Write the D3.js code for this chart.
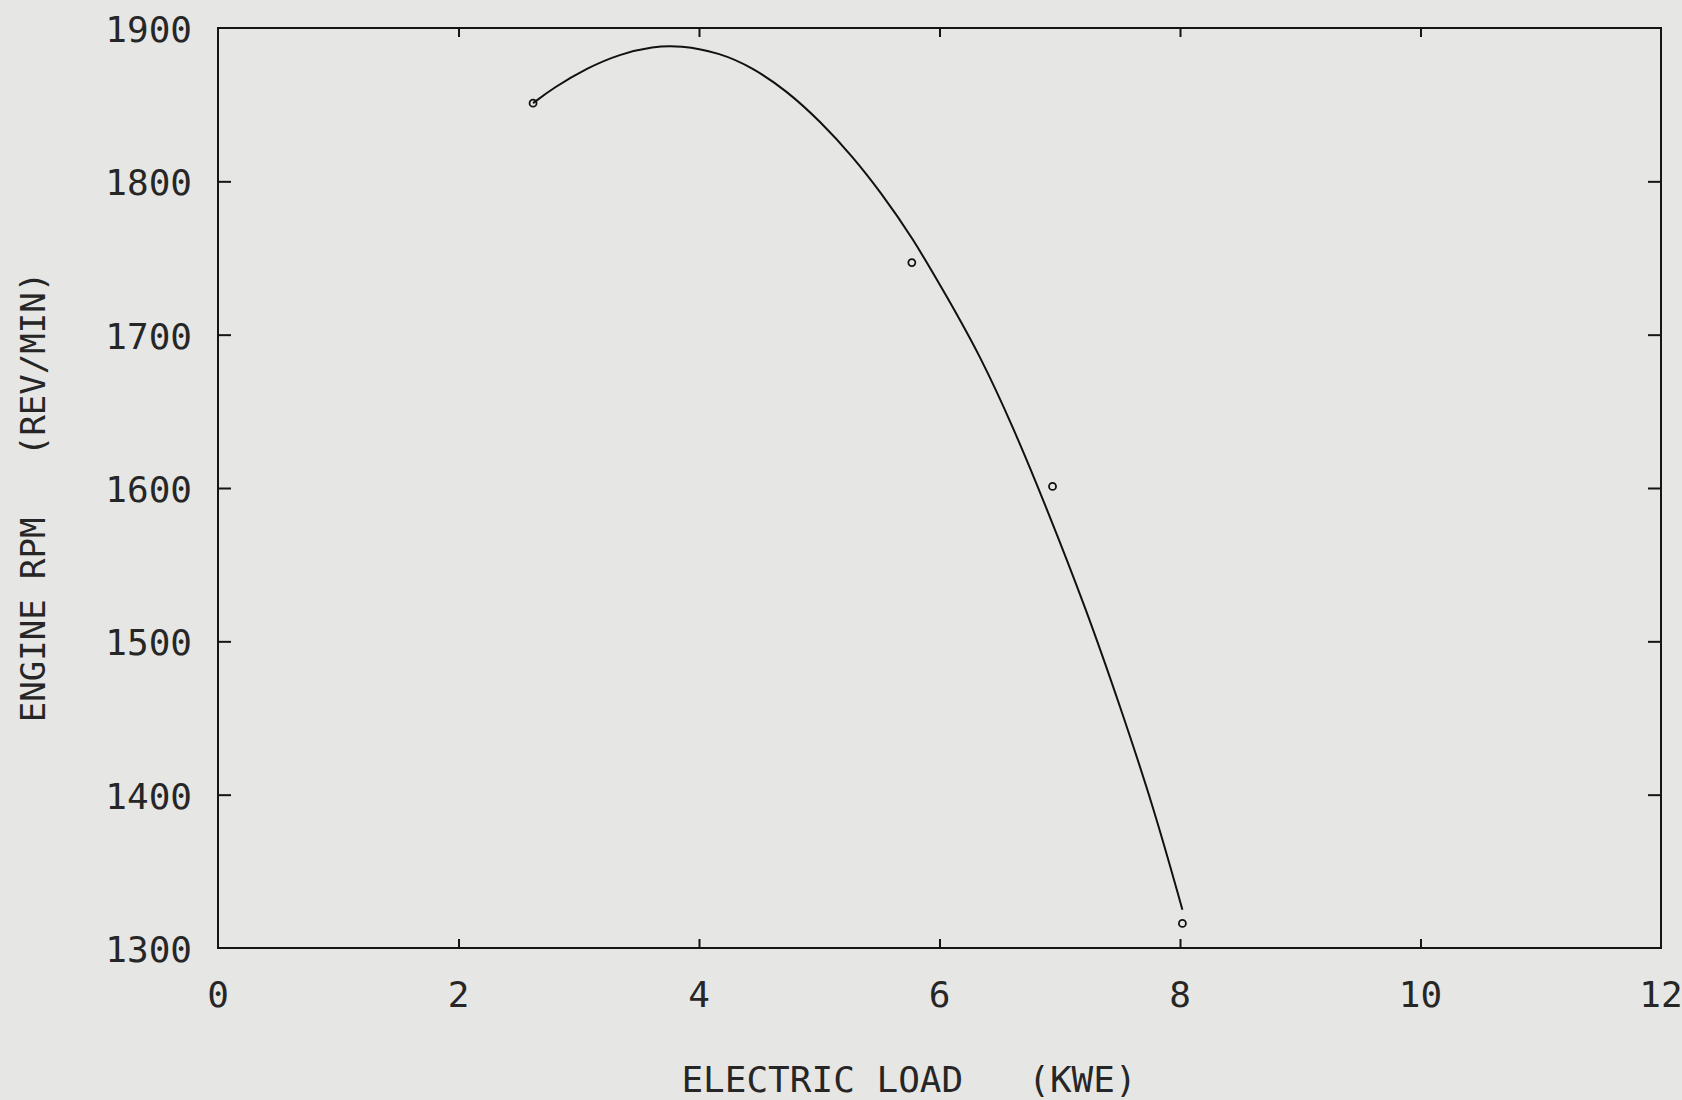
<!DOCTYPE html>
<html>
<head>
<meta charset="utf-8">
<script src="https://cdn.jsdelivr.net/npm/d3@7"></script>
<style>
  body { margin: 0; background: #e6e6e4; }
  svg { display: block; }
  text { font-family: "DejaVu Sans Mono", monospace; fill: #262626; }
</style>
</head>
<body>
<svg id="chart" width="1682" height="1100"></svg>
<script>
// measured points (open circles)
const loadKwe = [2.62, 5.77, 6.94, 8.02];
const rpm = [1851, 1747, 1601, 1316];

// fitted curve
const curveLoad = [2.62, 2.79, 3.07, 3.34, 3.62, 3.84, 4.17, 4.45, 4.73, 5.01, 5.28, 5.51, 5.77, 6.06, 6.34, 6.61, 6.86, 7.23, 7.50, 7.78, 8.02];
const curveRpm = [1851, 1861, 1874, 1883, 1888, 1888.6, 1884, 1874, 1859, 1839, 1816, 1793, 1764, 1725, 1686, 1640, 1593, 1519, 1458, 1392, 1325];

const xTicks = [0, 2, 4, 6, 8, 10, 12];
const yTicks = [1300, 1400, 1500, 1600, 1700, 1800, 1900];

const plotLeft = 218, plotRight = 1661, plotTop = 28, plotBottom = 948;

let svg = d3.select('#chart');
let xScale = d3.scaleLinear().domain([0, 12]).range([plotLeft, plotRight]);
let yScale = d3.scaleLinear().domain([1300, 1900]).range([plotBottom, plotTop]);

// frame
svg.append('rect')
  .attr('x', plotLeft).attr('y', plotTop)
  .attr('width', plotRight - plotLeft).attr('height', plotBottom - plotTop)
  .attr('fill', 'none').attr('stroke', '#151515').attr('stroke-width', 2);

// inward ticks on all four sides, labels only bottom / left
svg.append('g')
  .attr('transform', `translate(0, ${plotBottom})`)
  .call(d3.axisTop(xScale).tickValues(xTicks.slice(1, -1)).tickSize(9).tickFormat(''))
  .call(g => g.select('.domain').remove());
svg.append('g')
  .attr('transform', `translate(0, ${plotTop})`)
  .call(d3.axisBottom(xScale).tickValues(xTicks.slice(1, -1)).tickSize(9).tickFormat(''))
  .call(g => g.select('.domain').remove());
svg.append('g')
  .attr('transform', `translate(${plotLeft}, 0)`)
  .call(d3.axisRight(yScale).tickValues(yTicks.slice(1, -1)).tickSize(13).tickFormat(''))
  .call(g => g.select('.domain').remove());
svg.append('g')
  .attr('transform', `translate(${plotRight}, 0)`)
  .call(d3.axisLeft(yScale).tickValues(yTicks.slice(1, -1)).tickSize(13).tickFormat(''))
  .call(g => g.select('.domain').remove());
svg.selectAll('.tick line').attr('stroke', '#151515').attr('stroke-width', 2);

svg.selectAll('.xlab')
  .data(xTicks)
  .enter()
  .append('text')
  .attr('x', d => xScale(d))
  .attr('y', 1007)
  .attr('text-anchor', 'middle')
  .attr('font-size', 36)
  .text(d => d);

svg.selectAll('.ylab')
  .data(yTicks)
  .enter()
  .append('text')
  .attr('x', 192)
  .attr('y', d => yScale(d) + 14)
  .attr('text-anchor', 'end')
  .attr('font-size', 36)
  .text(d => d);

svg.append('text')
  .attr('x', 909).attr('y', 1092)
  .attr('text-anchor', 'middle')
  .attr('font-size', 36)
  .style('white-space', 'pre')
  .text('ELECTRIC LOAD   (KWE)');

svg.append('text')
  .attr('transform', 'translate(45, 497) rotate(-90)')
  .attr('text-anchor', 'middle')
  .attr('font-size', 34)
  .style('white-space', 'pre')
  .text('ENGINE RPM   (REV/MIN)');

// curve
let pts = curveLoad.map((x, i) => [x, curveRpm[i]]);
svg.append('path')
  .attr('d', d3.line().x(d => xScale(d[0])).y(d => yScale(d[1])).curve(d3.curveBasis)(pts))
  .attr('fill', 'none').attr('stroke', '#111').attr('stroke-width', 2);

// data circles
svg.selectAll('circle')
  .data(loadKwe)
  .enter()
  .append('circle')
  .attr('cx', d => xScale(d))
  .attr('cy', (d, i) => yScale(rpm[i]))
  .attr('r', 3.5)
  .attr('fill', 'none').attr('stroke', '#111').attr('stroke-width', 1.8);
</script>
</body>
</html>
